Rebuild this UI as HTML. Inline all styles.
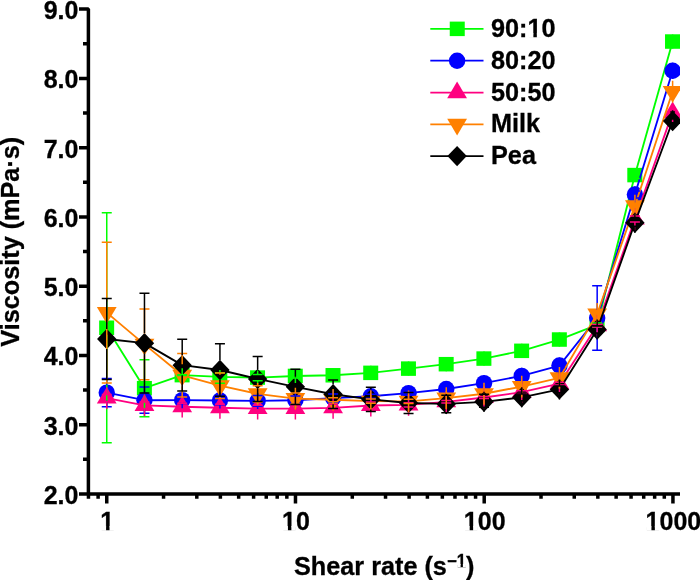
<!DOCTYPE html>
<html><head><meta charset="utf-8"><title>Viscosity vs shear rate</title>
<style>html,body{margin:0;padding:0;background:#fff}svg{display:block;will-change:transform}text{font-family:"Liberation Sans",sans-serif;font-weight:bold;font-size:25px;fill:#000;stroke:#000;stroke-width:0.3px}</style></head><body>
<svg width="700" height="580" viewBox="0 0 700 580">
<rect width="700" height="580" fill="#fff"/>
<defs><clipPath id="c"><rect x="80" y="0" width="600" height="520"/></clipPath></defs>
<g clip-path="url(#c)">
<polyline points="106.75,327.75 144.47,388.22 182.20,375.13 219.93,376.93 257.65,377.56 295.38,375.96 333.10,375.27 370.82,372.85 408.55,368.62 446.28,364.19 484.00,358.58 521.73,350.82 559.45,339.53 597.17,324.98 634.90,175.08 672.62,41.53" fill="none" stroke="#00ff00" stroke-width="1.85" stroke-linejoin="round"/>
<rect x="99.15" y="320.50" width="15" height="14.5" fill="#00ff00"/>
<rect x="136.88" y="380.97" width="15" height="14.5" fill="#00ff00"/>
<rect x="174.60" y="367.88" width="15" height="14.5" fill="#00ff00"/>
<rect x="212.33" y="369.68" width="15" height="14.5" fill="#00ff00"/>
<rect x="250.05" y="370.31" width="15" height="14.5" fill="#00ff00"/>
<rect x="287.77" y="368.71" width="15" height="14.5" fill="#00ff00"/>
<rect x="325.50" y="368.02" width="15" height="14.5" fill="#00ff00"/>
<rect x="363.22" y="365.60" width="15" height="14.5" fill="#00ff00"/>
<rect x="400.95" y="361.37" width="15" height="14.5" fill="#00ff00"/>
<rect x="438.68" y="356.94" width="15" height="14.5" fill="#00ff00"/>
<rect x="476.40" y="351.33" width="15" height="14.5" fill="#00ff00"/>
<rect x="514.12" y="343.57" width="15" height="14.5" fill="#00ff00"/>
<rect x="551.85" y="332.28" width="15" height="14.5" fill="#00ff00"/>
<rect x="589.57" y="317.73" width="15" height="14.5" fill="#00ff00"/>
<rect x="627.30" y="167.83" width="15" height="14.5" fill="#00ff00"/>
<rect x="665.02" y="34.28" width="15" height="14.5" fill="#00ff00"/>
<polyline points="106.75,392.66 144.47,400.21 182.20,400.14 219.93,400.49 257.65,400.90 295.38,400.21 333.10,398.06 370.82,396.26 408.55,393.14 446.28,388.99 484.00,383.17 521.73,375.83 559.45,365.57 597.17,317.98 634.90,194.48 672.62,70.76" fill="none" stroke="#0000ff" stroke-width="1.85" stroke-linejoin="round"/>
<circle cx="106.75" cy="392.66" r="8.2" fill="#0000ff"/>
<circle cx="144.47" cy="400.21" r="8.2" fill="#0000ff"/>
<circle cx="182.20" cy="400.14" r="8.2" fill="#0000ff"/>
<circle cx="219.93" cy="400.49" r="8.2" fill="#0000ff"/>
<circle cx="257.65" cy="400.90" r="8.2" fill="#0000ff"/>
<circle cx="295.38" cy="400.21" r="8.2" fill="#0000ff"/>
<circle cx="333.10" cy="398.06" r="8.2" fill="#0000ff"/>
<circle cx="370.82" cy="396.26" r="8.2" fill="#0000ff"/>
<circle cx="408.55" cy="393.14" r="8.2" fill="#0000ff"/>
<circle cx="446.28" cy="388.99" r="8.2" fill="#0000ff"/>
<circle cx="484.00" cy="383.17" r="8.2" fill="#0000ff"/>
<circle cx="521.73" cy="375.83" r="8.2" fill="#0000ff"/>
<circle cx="559.45" cy="365.57" r="8.2" fill="#0000ff"/>
<circle cx="597.17" cy="317.98" r="8.2" fill="#0000ff"/>
<circle cx="634.90" cy="194.48" r="8.2" fill="#0000ff"/>
<circle cx="672.62" cy="70.76" r="8.2" fill="#0000ff"/>
<polyline points="106.75,398.06 144.47,405.40 182.20,406.72 219.93,407.76 257.65,408.59 295.38,408.59 333.10,407.83 370.82,405.54 408.55,404.85 446.28,401.80 484.00,397.51 521.73,392.17 559.45,383.72 597.17,325.67 634.90,219.00 672.62,112.60" fill="none" stroke="#ff0080" stroke-width="1.85" stroke-linejoin="round"/>
<path d="M106.75 386.99L116.65 403.59L96.85 403.59Z" fill="#ff0080"/>
<path d="M144.47 394.34L154.38 410.94L134.57 410.94Z" fill="#ff0080"/>
<path d="M182.20 395.65L192.10 412.25L172.30 412.25Z" fill="#ff0080"/>
<path d="M219.93 396.69L229.83 413.29L210.03 413.29Z" fill="#ff0080"/>
<path d="M257.65 397.52L267.55 414.12L247.75 414.12Z" fill="#ff0080"/>
<path d="M295.38 397.52L305.27 414.12L285.48 414.12Z" fill="#ff0080"/>
<path d="M333.10 396.76L343.00 413.36L323.20 413.36Z" fill="#ff0080"/>
<path d="M370.82 394.48L380.72 411.08L360.93 411.08Z" fill="#ff0080"/>
<path d="M408.55 393.78L418.45 410.38L398.65 410.38Z" fill="#ff0080"/>
<path d="M446.28 390.73L456.18 407.33L436.38 407.33Z" fill="#ff0080"/>
<path d="M484.00 386.44L493.90 403.04L474.10 403.04Z" fill="#ff0080"/>
<path d="M521.73 381.11L531.62 397.71L511.83 397.71Z" fill="#ff0080"/>
<path d="M559.45 372.66L569.35 389.26L549.55 389.26Z" fill="#ff0080"/>
<path d="M597.17 314.61L607.07 331.21L587.27 331.21Z" fill="#ff0080"/>
<path d="M634.90 207.93L644.80 224.53L625.00 224.53Z" fill="#ff0080"/>
<path d="M672.62 101.53L682.52 118.13L662.73 118.13Z" fill="#ff0080"/>
<polyline points="106.75,312.65 144.47,344.38 182.20,375.27 219.93,385.66 257.65,393.90 295.38,398.55 333.10,399.79 370.82,401.18 408.55,401.32 446.28,398.06 484.00,393.77 521.73,386.56 559.45,377.90 597.17,313.97 634.90,205.70 672.62,91.54" fill="none" stroke="#ff8000" stroke-width="1.85" stroke-linejoin="round"/>
<path d="M106.75 323.72L116.65 307.12L96.85 307.12Z" fill="#ff8000"/>
<path d="M144.47 355.44L154.38 338.84L134.57 338.84Z" fill="#ff8000"/>
<path d="M182.20 386.34L192.10 369.74L172.30 369.74Z" fill="#ff8000"/>
<path d="M219.93 396.73L229.83 380.13L210.03 380.13Z" fill="#ff8000"/>
<path d="M257.65 404.97L267.55 388.37L247.75 388.37Z" fill="#ff8000"/>
<path d="M295.38 409.61L305.27 393.01L285.48 393.01Z" fill="#ff8000"/>
<path d="M333.10 410.86L343.00 394.26L323.20 394.26Z" fill="#ff8000"/>
<path d="M370.82 412.24L380.72 395.64L360.93 395.64Z" fill="#ff8000"/>
<path d="M408.55 412.38L418.45 395.78L398.65 395.78Z" fill="#ff8000"/>
<path d="M446.28 409.13L456.18 392.53L436.38 392.53Z" fill="#ff8000"/>
<path d="M484.00 404.83L493.90 388.23L474.10 388.23Z" fill="#ff8000"/>
<path d="M521.73 397.63L531.62 381.03L511.83 381.03Z" fill="#ff8000"/>
<path d="M559.45 388.97L569.35 372.37L549.55 372.37Z" fill="#ff8000"/>
<path d="M597.17 325.03L607.07 308.43L587.27 308.43Z" fill="#ff8000"/>
<path d="M634.90 216.76L644.80 200.16L625.00 200.16Z" fill="#ff8000"/>
<path d="M672.62 102.61L682.52 86.01L662.73 86.01Z" fill="#ff8000"/>
<polyline points="106.75,339.04 144.47,343.13 182.20,365.16 219.93,370.01 257.65,378.94 295.38,386.84 333.10,394.25 370.82,399.45 408.55,402.98 446.28,403.95 484.00,401.80 521.73,397.37 559.45,389.40 597.17,329.48 634.90,222.81 672.62,120.98" fill="none" stroke="#000000" stroke-width="1.85" stroke-linejoin="round"/>
<path d="M106.75 328.84L116.45 339.04L106.75 349.24L97.05 339.04Z" fill="#000000"/>
<path d="M144.47 332.93L154.17 343.13L144.47 353.33L134.78 343.13Z" fill="#000000"/>
<path d="M182.20 354.96L191.90 365.16L182.20 375.36L172.50 365.16Z" fill="#000000"/>
<path d="M219.93 359.81L229.62 370.01L219.93 380.21L210.23 370.01Z" fill="#000000"/>
<path d="M257.65 368.74L267.35 378.94L257.65 389.14L247.95 378.94Z" fill="#000000"/>
<path d="M295.38 376.64L305.07 386.84L295.38 397.04L285.68 386.84Z" fill="#000000"/>
<path d="M333.10 384.05L342.80 394.25L333.10 404.45L323.40 394.25Z" fill="#000000"/>
<path d="M370.82 389.25L380.52 399.45L370.82 409.65L361.12 399.45Z" fill="#000000"/>
<path d="M408.55 392.78L418.25 402.98L408.55 413.18L398.85 402.98Z" fill="#000000"/>
<path d="M446.28 393.75L455.98 403.95L446.28 414.15L436.58 403.95Z" fill="#000000"/>
<path d="M484.00 391.60L493.70 401.80L484.00 412.00L474.30 401.80Z" fill="#000000"/>
<path d="M521.73 387.17L531.43 397.37L521.73 407.57L512.02 397.37Z" fill="#000000"/>
<path d="M559.45 379.20L569.15 389.40L559.45 399.60L549.75 389.40Z" fill="#000000"/>
<path d="M597.17 319.28L606.88 329.48L597.17 339.68L587.47 329.48Z" fill="#000000"/>
<path d="M634.90 212.61L644.60 222.81L634.90 233.01L625.20 222.81Z" fill="#000000"/>
<path d="M672.62 110.78L682.33 120.98L672.62 131.18L662.92 120.98Z" fill="#000000"/>
<path d="M106.75 320.75V212.76M101.75 212.76H111.75M106.75 334.75V442.74M101.75 442.74H111.75M144.47 381.22V359.82M139.47 359.82H149.47M144.47 395.22V416.63M139.47 416.63H149.47M182.20 368.13V374.79M177.20 374.79H187.20M182.20 382.13V375.48M177.20 375.48H187.20M219.93 369.93V372.85M214.93 372.85H224.93M219.93 383.93V383.17M214.93 383.17H224.93M257.65 370.56V374.44M252.65 374.44H262.65M257.65 384.56V380.67M252.65 380.67H262.65M295.38 368.96V373.89M290.38 373.89H300.38M295.38 382.96V378.04M290.38 378.04H300.38M333.10 368.27V373.19M328.10 373.19H338.10M333.10 382.27V377.35M328.10 377.35H338.10M370.82 365.85V370.77M365.82 370.77H375.82M370.82 379.85V374.92M365.82 374.92H375.82M408.55 361.62V366.54M403.55 366.54H413.55M408.55 375.62V370.70M403.55 370.70H413.55M446.28 357.19V362.11M441.28 362.11H451.28M446.28 371.19V366.27M441.28 366.27H451.28M484.00 351.58V356.50M479.00 356.50H489.00M484.00 365.58V360.66M479.00 360.66H489.00M521.73 343.82V348.74M516.73 348.74H526.73M521.73 357.82V352.90M516.73 352.90H526.73M559.45 332.53V337.45M554.45 337.45H564.45M559.45 346.53V341.61M554.45 341.61H564.45M597.17 317.98V322.90M592.17 322.90H602.17M597.17 331.98V327.06M592.17 327.06H602.17M634.90 168.08V171.62M629.90 171.62H639.90M634.90 182.08V178.54M629.90 178.54H639.90M672.62 34.53V38.06M667.62 38.06H677.62M672.62 48.53V44.99M667.62 44.99H677.62" fill="none" stroke="#00ff00" stroke-width="1.5"/>
<path d="M106.75 384.66V378.56M101.75 378.56H111.75M106.75 400.66V406.75M101.75 406.75H111.75M144.47 392.21V387.12M139.47 387.12H149.47M144.47 408.21V413.30M139.47 413.30H149.47M182.20 392.14V396.68M177.20 396.68H187.20M182.20 408.14V403.60M177.20 403.60H187.20M219.93 392.49V396.33M214.93 396.33H224.93M219.93 408.49V404.64M214.93 404.64H224.93M257.65 392.90V395.57M252.65 395.57H262.65M257.65 408.90V406.23M252.65 406.23H262.65M295.38 392.21V396.05M290.38 396.05H300.38M295.38 408.21V404.36M290.38 404.36H300.38M333.10 390.06V393.90M328.10 393.90H338.10M333.10 406.06V402.22M328.10 402.22H338.10M370.82 388.26V394.18M365.82 394.18H375.82M370.82 404.26V398.34M365.82 398.34H375.82M408.55 385.14V391.06M403.55 391.06H413.55M408.55 401.14V395.22M403.55 395.22H413.55M446.28 380.99V386.91M441.28 386.91H451.28M446.28 396.99V391.06M441.28 391.06H451.28M484.00 375.17V381.09M479.00 381.09H489.00M484.00 391.17V385.25M479.00 385.25H489.00M521.73 367.83V373.75M516.73 373.75H526.73M521.73 383.83V377.90M516.73 377.90H526.73M559.45 357.57V363.50M554.45 363.50H564.45M559.45 373.57V367.65M554.45 367.65H564.45M597.17 309.98V285.64M592.17 285.64H602.17M597.17 325.98V350.33M592.17 350.33H602.17M634.90 186.48V191.01M629.90 191.01H639.90M634.90 202.48V197.94M629.90 197.94H639.90M672.62 62.76V67.30M667.62 67.30H677.62M672.62 78.76V74.22M667.62 74.22H677.62" fill="none" stroke="#0000ff" stroke-width="1.5"/>
<path d="M106.75 387.16V394.60M101.75 394.60H111.75M106.75 408.96V401.52M101.75 401.52H111.75M144.47 394.50V401.94M139.47 401.94H149.47M144.47 416.30V408.87M139.47 408.87H149.47M182.20 395.82V403.26M177.20 403.26H187.20M182.20 417.62V410.18M177.20 410.18H187.20M219.93 396.86V404.30M214.93 404.30H224.93M219.93 418.66V411.22M214.93 411.22H224.93M257.65 397.69V405.13M252.65 405.13H262.65M257.65 419.49V412.05M252.65 412.05H262.65M295.38 397.69V405.13M290.38 405.13H300.38M295.38 419.49V412.05M290.38 412.05H300.38M333.10 396.93V404.36M328.10 404.36H338.10M333.10 418.73V411.29M328.10 411.29H338.10M370.82 394.64V402.08M365.82 402.08H375.82M370.82 416.44V409.01M365.82 409.01H375.82M408.55 393.95V402.77M403.55 402.77H413.55M408.55 415.75V406.93M403.55 406.93H413.55M446.28 390.90V400.55M441.28 400.55H451.28M446.28 412.70V403.05M441.28 403.05H451.28M484.00 386.61V396.47M479.00 396.47H489.00M484.00 408.41V398.55M479.00 398.55H489.00M521.73 381.27V390.79M516.73 390.79H526.73M521.73 403.07V393.56M516.73 393.56H526.73M559.45 372.82V382.34M554.45 382.34H564.45M559.45 394.62V385.11M554.45 385.11H564.45M597.17 314.77V324.43M592.17 324.43H602.17M597.17 336.57V326.92M592.17 326.92H602.17M634.90 208.10V215.88M629.90 215.88H639.90M634.90 229.90V222.12M629.90 222.12H639.90M672.62 119.80V122.00" fill="none" stroke="#ff0080" stroke-width="1.5"/>
<path d="M106.75 301.75V242.20M101.75 242.20H111.75M106.75 323.55V383.10M101.75 383.10H111.75M144.47 333.48V309.05M139.47 309.05H149.47M144.47 355.28V379.70M139.47 379.70H149.47M182.20 364.37V353.52M177.20 353.52H187.20M182.20 386.17V397.02M177.20 397.02H187.20M219.93 374.76V372.92M214.93 372.92H224.93M219.93 396.56V398.41M214.93 398.41H224.93M257.65 383.00V385.80M252.65 385.80H262.65M257.65 404.80V402.01M252.65 402.01H262.65M295.38 387.65V393.00M290.38 393.00H300.38M295.38 409.45V404.09M290.38 404.09H300.38M333.10 388.89V397.71M328.10 397.71H338.10M333.10 410.69V401.87M328.10 401.87H338.10M370.82 390.28V399.10M365.82 399.10H375.82M370.82 412.08V403.26M365.82 403.26H375.82M408.55 390.42V399.24M403.55 399.24H413.55M408.55 412.22V403.39M403.55 403.39H413.55M446.28 387.16V408.96M484.00 382.87V404.67M521.73 375.66V397.46M559.45 367.00V388.80M597.17 303.07V324.87M634.90 194.80V216.60M672.62 80.64V102.44" fill="none" stroke="#ff8000" stroke-width="1.5"/>
<path d="M106.75 329.04V298.52M101.75 298.52H111.75M106.75 349.04V379.57M101.75 379.57H111.75M144.47 333.13V293.26M139.47 293.26H149.47M144.47 353.13V393.00M139.47 393.00H149.47M182.20 355.16V339.32M177.20 339.32H187.20M182.20 375.16V391.00M177.20 391.00H187.20M219.93 360.01V343.68M214.93 343.68H224.93M219.93 380.01V396.33M214.93 396.33H224.93M257.65 368.94V356.43M252.65 356.43H262.65M257.65 388.94V401.46M252.65 401.46H262.65M295.38 376.84V369.24M290.38 369.24H300.38M295.38 396.84V404.43M290.38 404.43H300.38M333.10 384.25V379.91M328.10 379.91H338.10M333.10 404.25V408.59M328.10 408.59H338.10M370.82 389.45V387.32M365.82 387.32H375.82M370.82 409.45V411.57M365.82 411.57H375.82M408.55 392.98V392.38M403.55 392.38H413.55M408.55 412.98V413.58M403.55 413.58H413.55M446.28 393.95V395.22M441.28 395.22H451.28M446.28 413.95V412.68M441.28 412.68H451.28M484.00 391.80V394.18M479.00 394.18H489.00M484.00 411.80V407.34M479.00 407.34H489.00M521.73 387.37V393.90M516.73 393.90H526.73M521.73 407.37V400.83M516.73 400.83H526.73M559.45 379.40V385.94M554.45 385.94H564.45M559.45 399.40V392.87M554.45 392.87H564.45M597.17 319.48V326.02M592.17 326.02H602.17M597.17 339.48V332.95M592.17 332.95H602.17M634.90 212.81V219.34M629.90 219.34H639.90M634.90 232.81V226.27M629.90 226.27H639.90M672.62 110.18V113.58M670.23 111.98H675.02" fill="none" stroke="#000000" stroke-width="1.5"/>
</g>
<g stroke="#000" stroke-width="3.5" fill="none">
<path d="M79 9.1H88.4V494.0H680" stroke-linejoin="bevel"/>
<path d="M79 494.00H88.4M79 424.73H88.4M79 355.46H88.4M79 286.19H88.4M79 216.92H88.4M79 147.65H88.4M79 78.38H88.4M83 459.37H88.4M83 390.10H88.4M83 320.83H88.4M83 251.56H88.4M83 182.29H88.4M83 113.02H88.4M83 43.75H88.4M106.75 494.0V503.5M295.48 494.0V503.5M484.21 494.0V503.5M672.94 494.0V503.5M88.46 494.0V498.7M98.11 494.0V498.7M163.56 494.0V498.7M196.80 494.0V498.7M220.38 494.0V498.7M238.67 494.0V498.7M253.61 494.0V498.7M266.25 494.0V498.7M277.19 494.0V498.7M286.84 494.0V498.7M352.29 494.0V498.7M385.53 494.0V498.7M409.11 494.0V498.7M427.40 494.0V498.7M442.34 494.0V498.7M454.98 494.0V498.7M465.92 494.0V498.7M475.57 494.0V498.7M541.02 494.0V498.7M574.26 494.0V498.7M597.84 494.0V498.7M616.13 494.0V498.7M631.07 494.0V498.7M643.71 494.0V498.7M654.65 494.0V498.7M664.30 494.0V498.7"/>
</g>
<text transform="translate(78.4 503.9) scale(1 1.06)" text-anchor="end">2.0</text>
<text transform="translate(78.4 434.6) scale(1 1.06)" text-anchor="end">3.0</text>
<text transform="translate(78.4 365.4) scale(1 1.06)" text-anchor="end">4.0</text>
<text transform="translate(78.4 296.1) scale(1 1.06)" text-anchor="end">5.0</text>
<text transform="translate(78.4 226.8) scale(1 1.06)" text-anchor="end">6.0</text>
<text transform="translate(78.4 157.6) scale(1 1.06)" text-anchor="end">7.0</text>
<text transform="translate(78.4 88.3) scale(1 1.06)" text-anchor="end">8.0</text>
<text transform="translate(78.4 19.0) scale(1 1.06)" text-anchor="end">9.0</text>
<text transform="translate(107.2 530) scale(1 1.06)" text-anchor="middle">1</text>
<text transform="translate(296.0 530) scale(1 1.06)" text-anchor="middle">10</text>
<text transform="translate(484.7 530) scale(1 1.06)" text-anchor="middle">100</text>
<text transform="translate(673.4 530) scale(1 1.06)" text-anchor="middle">1000</text>
<text transform="translate(384.2 574.7) scale(1.01 1.06)" text-anchor="middle">Shear rate (s<tspan font-size="16.6" dy="-7.7">−1</tspan><tspan dy="7.7">)</tspan></text>
<text transform="translate(18.7 241.7) rotate(-90) scale(1.0097 1.04)" text-anchor="middle">Viscosity (mPa·s)</text>
<path d="M430.3 28.85H483.5" stroke="#00ff00" stroke-width="1.75"/>
<rect x="449.75" y="21.60" width="15" height="14.5" fill="#00ff00"/>
<text transform="translate(491.0 37.1) scale(1.01 1.06)">90:10</text>
<path d="M430.3 60.7H483.5" stroke="#0000ff" stroke-width="1.75"/>
<circle cx="457.10" cy="60.70" r="8.2" fill="#0000ff"/>
<text transform="translate(491.0 68.7) scale(1.01 1.06)">80:20</text>
<path d="M430.3 92.6H483.5" stroke="#ff0080" stroke-width="1.75"/>
<path d="M457.10 81.53L467.00 98.13L447.20 98.13Z" fill="#ff0080"/>
<text transform="translate(491.0 100.5) scale(1.01 1.06)">50:50</text>
<path d="M430.3 124.4H483.5" stroke="#ff8000" stroke-width="1.75"/>
<path d="M457.10 135.47L467.00 118.87L447.20 118.87Z" fill="#ff8000"/>
<text transform="translate(491.0 131.9) scale(1.01 1.06)">Milk</text>
<path d="M430.3 156.1H483.5" stroke="#000000" stroke-width="1.75"/>
<path d="M457.10 145.90L466.80 156.10L457.10 166.30L447.40 156.10Z" fill="#000000"/>
<text transform="translate(491.0 164.0) scale(1.01 1.06)">Pea</text>
<g fill="#fff" transform="translate(107.2 530) scale(1 1.06)"><rect x="-6.22" y="-3.66" width="5.10" height="4.39"/><rect x="2.31" y="-3.66" width="4.53" height="4.39"/></g>
<g fill="#fff" transform="translate(296.0 530) scale(1 1.06)"><rect x="-13.17" y="-3.66" width="5.10" height="4.39"/><rect x="-4.64" y="-3.66" width="4.53" height="4.39"/></g>
<g fill="#fff" transform="translate(484.7 530) scale(1 1.06)"><rect x="-20.12" y="-3.66" width="5.10" height="4.39"/><rect x="-11.58" y="-3.66" width="4.53" height="4.39"/></g>
<g fill="#fff" transform="translate(673.4 530) scale(1 1.06)"><rect x="-27.07" y="-3.66" width="5.10" height="4.39"/><rect x="-18.54" y="-3.66" width="4.53" height="4.39"/></g>
<g fill="#fff" transform="translate(384.2 574.7) scale(1.01 1.06)"><rect x="72.25" y="-10.13" width="3.39" height="2.92"/><rect x="77.92" y="-10.13" width="3.01" height="2.92"/></g>
<g fill="#fff" transform="translate(491.0 37.1) scale(1.01 1.06)"><rect x="36.85" y="-3.66" width="5.10" height="4.39"/><rect x="45.38" y="-3.66" width="4.53" height="4.39"/></g>
</svg></body></html>
